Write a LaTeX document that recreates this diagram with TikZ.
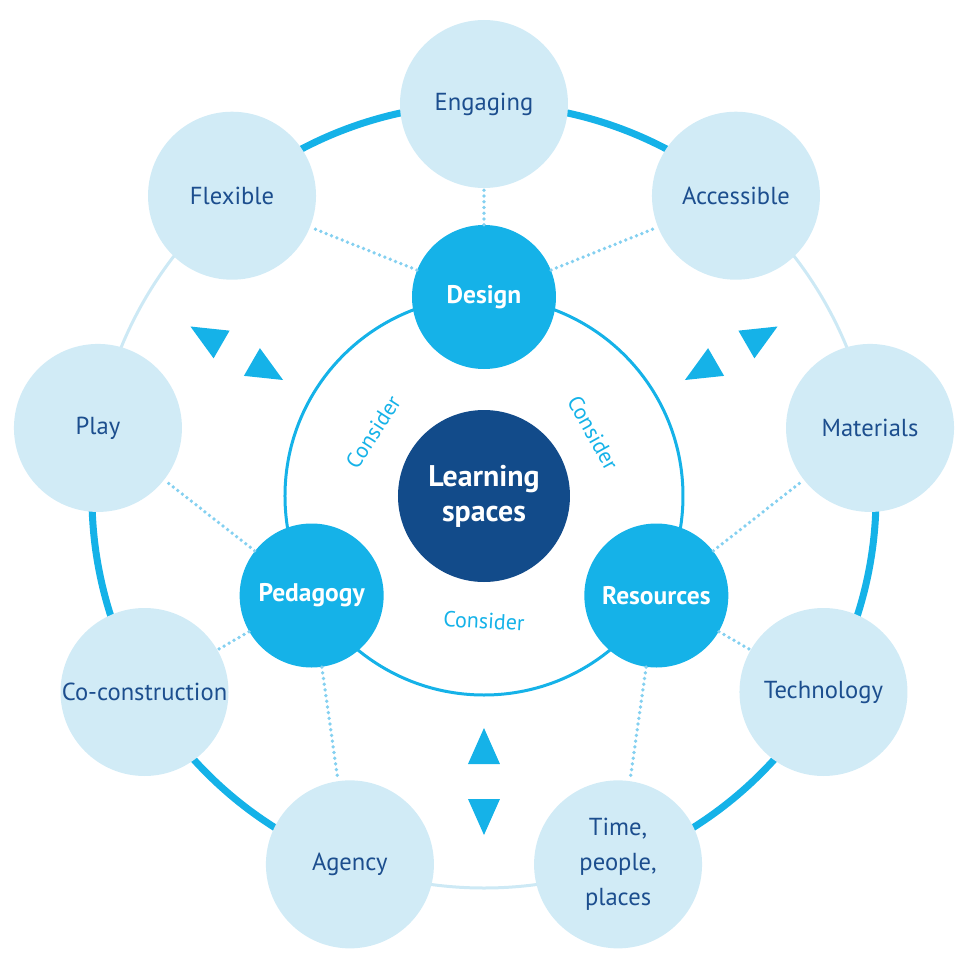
\documentclass[tikz,border=0pt]{standalone}
\usepackage{fontspec}
\setmainfont{PT Sans}
\usetikzlibrary{calc}

\definecolor{lightblue}{HTML}{D1EBF6}
\definecolor{midblue}{HTML}{15B2E8}
\definecolor{darkblue}{HTML}{124B8A}
\definecolor{textblue}{HTML}{1C4E8E}
\definecolor{dotblue}{HTML}{84D0F0}
\definecolor{ringlight}{HTML}{CDE9F5}

\tikzset{
  outer/.style={circle, fill=lightblue, minimum size=33.6mm, inner sep=0pt, text=textblue, align=center, font=\fontsize{14}{20}\selectfont},
  hub/.style={circle, fill=midblue, minimum size=28.8mm, inner sep=0pt, text=white, font=\bfseries\fontsize{14.5}{17}\selectfont},
  core/.style={circle, fill=darkblue, minimum size=34.4mm, inner sep=0pt, text=white, align=center, font=\bfseries\fontsize{17}{20}\selectfont},
  consider/.style={text=midblue, inner sep=0pt, font=\fontsize{12.5}{15}\selectfont},
  ringthick/.style={midblue, line width=1.4mm},
  ringthin/.style={ringlight, line width=0.6mm},
  dotline/.style={dotblue, line width=0.75mm, line cap=round, dash pattern=on 0pt off 1.15mm}
}

\begin{document}
\begin{tikzpicture}[x=0.2mm,y=0.2mm]
  \useasboundingbox (-484,-473) rectangle (484,496);

  % outer ring
  \draw[ringthin] (0,0) circle[radius=78.4mm];
  \draw[ringthick] (130:392) arc[start angle=130, end angle=50, radius=78.4mm];
  \draw[ringthick] (10:392) arc[start angle=10, end angle=-70, radius=78.4mm];
  \draw[ringthick] (-110:392) arc[start angle=-110, end angle=-190, radius=78.4mm];
  % inner ring
  \draw[midblue, line width=0.6mm] (0,0) circle[radius=39.8mm];

  % triangles
  \foreach \a in {0,120,240}{
    \fill[midblue, rotate=\a] (0,-232) -- (16,-268) -- (-16,-268) -- cycle;
    \fill[midblue, rotate=\a] (-16,-303) -- (16,-303) -- (0,-339) -- cycle;
  }

  \node[outer] (engaging) at (90:392) {Engaging};
  \node[outer] (accessible) at (50:392) {Accessible};
  \node[outer] (materials) at (10:392) {Materials};
  \node[outer] (technology) at (-30:392) {Technology};
  \node[outer] (time) at (-70:392) {Time,\\people,\\places};
  \node[outer] (agency) at (-110:392) {Agency};
  \node[outer] (coconstr) at (-150:392) {Co-construction};
  \node[outer] (play) at (170:392) {Play};
  \node[outer] (flexible) at (130:392) {Flexible};

  \node[hub] (design) at (90:199) {Design};
  \node[hub] (resources) at (-30:199) {Resources};
  \node[hub] (pedagogy) at (210:199) {Pedagogy};
  \node[core] (learning) at (0,0) {Learning\\spaces};

  \node[consider, rotate=57] (cons1) at (150:128) {Consider};
  \node[consider, rotate=-61] (cons2) at (30:126) {Consider};
  \node[consider, rotate=-3] (cons3) at (-90:125) {Consider};

  % dotted links
  \draw[dotline] (design) -- (flexible);
  \draw[dotline] (design) -- (engaging);
  \draw[dotline] (design) -- (accessible);
  \draw[dotline] (resources) -- (materials);
  \draw[dotline] (resources) -- (technology);
  \draw[dotline] (resources) -- (time);
  \draw[dotline] (pedagogy) -- (play);
  \draw[dotline] (pedagogy) -- (coconstr);
  \draw[dotline] (pedagogy) -- (agency);
\end{tikzpicture}
\end{document}
